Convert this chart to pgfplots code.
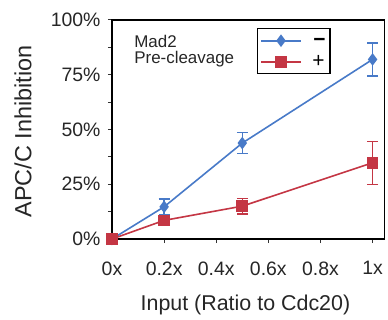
\documentclass[border=0pt]{standalone}
\usepackage{fontspec}
\setmainfont{Liberation Sans}
\usepackage{pgfplots}
\pgfplotsset{compat=1.18}
\definecolor{cblue}{RGB}{72,122,200}
\definecolor{cred}{RGB}{196,54,68}
\newcommand{\lfont}{\fontsize{21}{21}\selectfont}
\begin{document}
\begin{tikzpicture}
\begin{axis}[
  scale only axis,
  width=272.3bp, height=219bp,
  xmin=0, xmax=1.045, ymin=0, ymax=100,
  clip=false,
  axis line style={line width=1.3bp},
  tick align=outside,
  xtick pos=bottom, ytick pos=left,
  major tick length=4bp, minor tick length=4bp,
  tick style={line width=1bp, black!80},
  xtick={0,0.2,0.4,0.6,0.8,1},
  xticklabels={0x,0.2x,0.4x,0.6x,0.8x,1x},
  ytick={0,25,50,75,100},
  yticklabels={0\%,25\%,50\%,75\%,100\%},
  minor ytick={12.5,37.5,62.5,87.5},
  ticklabel style={font=\fontsize{19.5}{20}\selectfont, text=black!85},
  xticklabel style={yshift=-15bp},
  yticklabel style={xshift=-4bp},
  xlabel={Input (Ratio to Cdc20)},
  ylabel={APC/C Inhibition},
  xlabel style={font=\fontsize{21.5}{22}\selectfont, text=black!85, at={(axis description cs:0.49,-0.30)}, anchor=center},
  ylabel style={font=\fontsize{23.5}{24}\selectfont, text=black!85, at={(axis description cs:-0.327,0.491)}, anchor=center},
  legend style={at={(axis cs:0.555,96.3)}, anchor=north west, draw=black, line width=1.2bp,
    inner xsep=3bp, inner ysep=2bp, row sep=1bp,
    nodes={inner sep=1.5bp, text height=14bp, text depth=3bp}},
  legend cell align=left,
  legend image code/.code={
    \draw[#1, mark repeat=2, mark phase=2] plot coordinates {(0bp,0bp) (20bp,0bp) (40bp,0bp)};
  },
]
\addplot[cblue, line width=1.6bp, mark=diamond*, mark size=5bp, mark options={solid},
  error bars/.cd, y dir=both, y explicit,
  error bar style={line width=1.4bp, cblue},
  error mark options={line width=1.4bp, mark size=5.5bp, rotate=90}]
  coordinates {(0,0) +- (0,0) (0.2,14.7) +- (0,3.5) (0.5,43.8) +- (0,4.8) (1,82) +- (0,7.5)};
\addlegendentry{\lfont\hspace{10bp}\textbf{−}}
\addplot[cred, line width=1.6bp, mark=square*, mark size=5bp, mark options={solid},
  error bars/.cd, y dir=both, y explicit,
  error bar style={line width=1.4bp, cred},
  error mark options={line width=1.4bp, mark size=5.5bp, rotate=90}]
  coordinates {(0,0) +- (0,0) (0.2,8.5) +- (0,1.2) (0.5,15) +- (0,3.5) (1,34.8) +- (0,9.8)};
\addlegendentry{\lfont\hspace{9bp}+}
\node[anchor=base west, font=\fontsize{17}{17}\selectfont, inner sep=0pt, text=black!85] at (axis cs:0.085,87.6) {Mad2};
\node[anchor=base west, font=\fontsize{17}{17}\selectfont, inner sep=0pt, text=black!85] at (axis cs:0.085,80.3) {Pre-cleavage};
\end{axis}
\pgfresetboundingbox
\path (-112bp,-81bp) rectangle (276bp,239bp);
\end{tikzpicture}
\end{document}
